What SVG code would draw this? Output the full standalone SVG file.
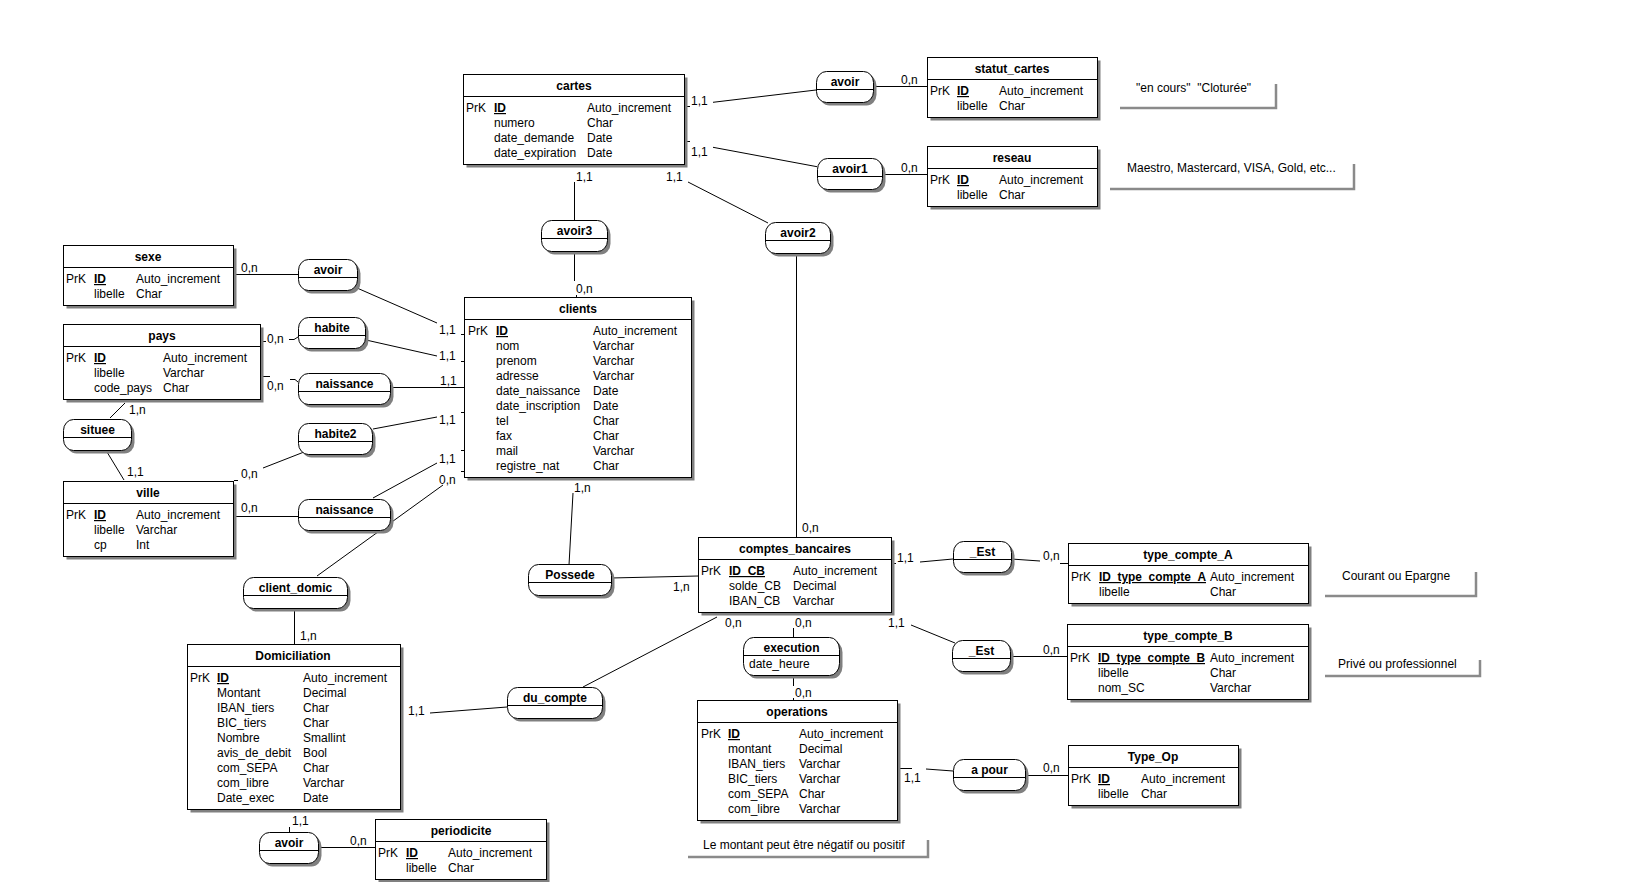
<svg xmlns="http://www.w3.org/2000/svg" width="1646" height="882" viewBox="0 0 1646 882">
<style>
text{font-family:"Liberation Sans",Arial,Helvetica,sans-serif;font-size:12px;fill:#000}
.b{font-weight:bold}
.c{text-anchor:middle}
.u{font-weight:bold;text-decoration:underline}
.box{fill:#fff;stroke:#000;stroke-width:1}
.sh{fill:#808080}
.dv{stroke:#000;stroke-width:1}
.cn path{fill:none;stroke:#000;stroke-width:1}
.note{fill:none;stroke:#8a8a8a;stroke-width:2.5}
</style>
<rect x="0" y="0" width="1646" height="882" fill="#fff"/>

<!-- connectors -->
<g id="connectors" class="cn">
<path d="M684 106.5H690M713 102.3L816 90"/>
<path d="M873 86.5H927"/>
<path d="M684 141.5H690M713 147.3L817 166.7"/>
<path d="M882 174.5H927"/>
<path d="M574.5 182V220"/>
<path d="M688 182L768 223"/>
<path d="M574.5 251V281M576.5 295V297"/>
<path d="M234 274.5H298"/>
<path d="M357 288L437 323M461 334.5H464"/>
<path d="M263 341.5H266M289 339.5H294L298 337"/>
<path d="M366 340L437 356M461 361.5H464"/>
<path d="M263 376.5H270M290 379.5H295L298 382"/>
<path d="M390 387.5H464"/>
<path d="M110 418L125 403"/>
<path d="M107 452L124 480"/>
<path d="M234 480.5H238M263 468L304 452"/>
<path d="M373 429L437 417M461 412.5H464"/>
<path d="M234 516.5H298"/>
<path d="M373 498L437 463M461 450.5H464"/>
<path d="M317 576L443 485M461 471.5H464"/>
<path d="M573 493L569 565"/>
<path d="M611 578L698 576"/>
<path d="M294.5 609V644"/>
<path d="M400 715.5H403M430 713L507 707"/>
<path d="M583 687L717 617"/>
<path d="M289.5 827V832"/>
<path d="M318 847.5H375"/>
<path d="M796.5 253V537"/>
<path d="M891 563.5H896M920 562L953 559"/>
<path d="M1011 559L1040 561M1060 563.5H1068"/>
<path d="M911 625L955 643"/>
<path d="M1010 656.5H1067"/>
<path d="M793.5 628V637"/>
<path d="M793.5 676V686M793.5 698V700"/>
<path d="M897 768.5H912M926 769L953 771"/>
<path d="M1025 775.5H1068"/>
</g>

<!-- cardinality labels -->
<g id="cardinalities">
<text x="691" y="105">1,1</text>
<text x="901" y="84">0,n</text>
<text x="691" y="156">1,1</text>
<text x="901" y="172">0,n</text>
<text x="576" y="181">1,1</text>
<text x="666" y="181">1,1</text>
<text x="576" y="293">0,n</text>
<text x="241" y="272">0,n</text>
<text x="439" y="334">1,1</text>
<text x="267" y="343">0,n</text>
<text x="439" y="360">1,1</text>
<text x="267" y="390">0,n</text>
<text x="440" y="385">1,1</text>
<text x="129" y="414">1,n</text>
<text x="127" y="476">1,1</text>
<text x="241" y="478">0,n</text>
<text x="439" y="424">1,1</text>
<text x="241" y="512">0,n</text>
<text x="439" y="463">1,1</text>
<text x="439" y="484">0,n</text>
<text x="574" y="492">1,n</text>
<text x="673" y="591">1,n</text>
<text x="300" y="640">1,n</text>
<text x="408" y="715">1,1</text>
<text x="725" y="627">0,n</text>
<text x="292" y="825">1,1</text>
<text x="350" y="845">0,n</text>
<text x="802" y="532">0,n</text>
<text x="897" y="562">1,1</text>
<text x="1043" y="560">0,n</text>
<text x="888" y="627">1,1</text>
<text x="1043" y="654">0,n</text>
<text x="795" y="627">0,n</text>
<text x="795" y="697">0,n</text>
<text x="904" y="782">1,1</text>
<text x="1043" y="772">0,n</text>
</g>

<!-- entities -->
<g id="cartes">
<rect class="sh" x="466.5" y="77.5" width="221" height="90"/>
<rect class="box" x="463.5" y="74.5" width="221" height="90"/>
<line class="dv" x1="463.5" y1="96.5" x2="684.5" y2="96.5"/>
<text class="b c" x="574" y="90">cartes</text>
<text x="466" y="112">PrK</text><text class="u" x="494" y="112">ID</text><text x="587" y="112">Auto_increment</text>
<text x="494" y="127">numero</text><text x="587" y="127">Char</text>
<text x="494" y="142">date_demande</text><text x="587" y="142">Date</text>
<text x="494" y="157">date_expiration</text><text x="587" y="157">Date</text>
</g>

<g id="statut_cartes">
<rect class="sh" x="930.5" y="60.5" width="170" height="60"/>
<rect class="box" x="927.5" y="57.5" width="170" height="60"/>
<line class="dv" x1="927.5" y1="79.5" x2="1097.5" y2="79.5"/>
<text class="b c" x="1012" y="73">statut_cartes</text>
<text x="930" y="95">PrK</text><text class="u" x="957" y="95">ID</text><text x="999" y="95">Auto_increment</text>
<text x="957" y="110">libelle</text><text x="999" y="110">Char</text>
</g>

<g id="reseau">
<rect class="sh" x="930.5" y="149.5" width="170" height="60"/>
<rect class="box" x="927.5" y="146.5" width="170" height="60"/>
<line class="dv" x1="927.5" y1="168.5" x2="1097.5" y2="168.5"/>
<text class="b c" x="1012" y="162">reseau</text>
<text x="930" y="184">PrK</text><text class="u" x="957" y="184">ID</text><text x="999" y="184">Auto_increment</text>
<text x="957" y="199">libelle</text><text x="999" y="199">Char</text>
</g>

<g id="sexe">
<rect class="sh" x="66.5" y="248.5" width="170" height="60"/>
<rect class="box" x="63.5" y="245.5" width="170" height="60"/>
<line class="dv" x1="63.5" y1="267.5" x2="233.5" y2="267.5"/>
<text class="b c" x="148" y="261">sexe</text>
<text x="66" y="283">PrK</text><text class="u" x="94" y="283">ID</text><text x="136" y="283">Auto_increment</text>
<text x="94" y="298">libelle</text><text x="136" y="298">Char</text>
</g>

<g id="pays">
<rect class="sh" x="66.5" y="327.5" width="197" height="75"/>
<rect class="box" x="63.5" y="324.5" width="197" height="75"/>
<line class="dv" x1="63.5" y1="346.5" x2="260.5" y2="346.5"/>
<text class="b c" x="162" y="340">pays</text>
<text x="66" y="362">PrK</text><text class="u" x="94" y="362">ID</text><text x="163" y="362">Auto_increment</text>
<text x="94" y="377">libelle</text><text x="163" y="377">Varchar</text>
<text x="94" y="392">code_pays</text><text x="163" y="392">Char</text>
</g>

<g id="ville">
<rect class="sh" x="66.5" y="484.5" width="170" height="75"/>
<rect class="box" x="63.5" y="481.5" width="170" height="75"/>
<line class="dv" x1="63.5" y1="503.5" x2="233.5" y2="503.5"/>
<text class="b c" x="148" y="497">ville</text>
<text x="66" y="519">PrK</text><text class="u" x="94" y="519">ID</text><text x="136" y="519">Auto_increment</text>
<text x="94" y="534">libelle</text><text x="136" y="534">Varchar</text>
<text x="94" y="549">cp</text><text x="136" y="549">Int</text>
</g>

<g id="clients">
<rect class="sh" x="467.5" y="300.5" width="227" height="180"/>
<rect class="box" x="464.5" y="297.5" width="227" height="180"/>
<line class="dv" x1="464.5" y1="319.5" x2="691.5" y2="319.5"/>
<text class="b c" x="578" y="313">clients</text>
<text x="468" y="335">PrK</text><text class="u" x="496" y="335">ID</text><text x="593" y="335">Auto_increment</text>
<text x="496" y="350">nom</text><text x="593" y="350">Varchar</text>
<text x="496" y="365">prenom</text><text x="593" y="365">Varchar</text>
<text x="496" y="380">adresse</text><text x="593" y="380">Varchar</text>
<text x="496" y="395">date_naissance</text><text x="593" y="395">Date</text>
<text x="496" y="410">date_inscription</text><text x="593" y="410">Date</text>
<text x="496" y="425">tel</text><text x="593" y="425">Char</text>
<text x="496" y="440">fax</text><text x="593" y="440">Char</text>
<text x="496" y="455">mail</text><text x="593" y="455">Varchar</text>
<text x="496" y="470">registre_nat</text><text x="593" y="470">Char</text>
</g>

<g id="comptes_bancaires">
<rect class="sh" x="701.5" y="540.5" width="193" height="75"/>
<rect class="box" x="698.5" y="537.5" width="193" height="75"/>
<line class="dv" x1="698.5" y1="559.5" x2="891.5" y2="559.5"/>
<text class="b c" x="795" y="553">comptes_bancaires</text>
<text x="701" y="575">PrK</text><text class="u" x="729" y="575">ID_CB</text><text x="793" y="575">Auto_increment</text>
<text x="729" y="590">solde_CB</text><text x="793" y="590">Decimal</text>
<text x="729" y="605">IBAN_CB</text><text x="793" y="605">Varchar</text>
</g>

<g id="type_compte_A">
<rect class="sh" x="1071.5" y="546.5" width="240" height="60"/>
<rect class="box" x="1068.5" y="543.5" width="240" height="60"/>
<line class="dv" x1="1068.5" y1="565.5" x2="1308.5" y2="565.5"/>
<text class="b c" x="1188" y="559">type_compte_A</text>
<text x="1071" y="581">PrK</text><text class="u" x="1099" y="581" textLength="107" lengthAdjust="spacingAndGlyphs">ID_type_compte_A</text><text x="1210" y="581">Auto_increment</text>
<text x="1099" y="596">libelle</text><text x="1210" y="596">Char</text>
</g>

<g id="type_compte_B">
<rect class="sh" x="1070.5" y="627.5" width="241" height="75"/>
<rect class="box" x="1067.5" y="624.5" width="241" height="75"/>
<line class="dv" x1="1067.5" y1="646.5" x2="1308.5" y2="646.5"/>
<text class="b c" x="1188" y="640">type_compte_B</text>
<text x="1070" y="662">PrK</text><text class="u" x="1098" y="662" textLength="107" lengthAdjust="spacingAndGlyphs">ID_type_compte_B</text><text x="1210" y="662">Auto_increment</text>
<text x="1098" y="677">libelle</text><text x="1210" y="677">Char</text>
<text x="1098" y="692">nom_SC</text><text x="1210" y="692">Varchar</text>
</g>

<g id="operations">
<rect class="sh" x="700.5" y="703.5" width="200" height="120"/>
<rect class="box" x="697.5" y="700.5" width="200" height="120"/>
<line class="dv" x1="697.5" y1="722.5" x2="897.5" y2="722.5"/>
<text class="b c" x="797" y="716">operations</text>
<text x="701" y="738">PrK</text><text class="u" x="728" y="738">ID</text><text x="799" y="738">Auto_increment</text>
<text x="728" y="753">montant</text><text x="799" y="753">Decimal</text>
<text x="728" y="768">IBAN_tiers</text><text x="799" y="768">Varchar</text>
<text x="728" y="783">BIC_tiers</text><text x="799" y="783">Varchar</text>
<text x="728" y="798">com_SEPA</text><text x="799" y="798">Char</text>
<text x="728" y="813">com_libre</text><text x="799" y="813">Varchar</text>
</g>

<g id="Type_Op">
<rect class="sh" x="1071.5" y="748.5" width="170" height="60"/>
<rect class="box" x="1068.5" y="745.5" width="170" height="60"/>
<line class="dv" x1="1068.5" y1="767.5" x2="1238.5" y2="767.5"/>
<text class="b c" x="1153" y="761">Type_Op</text>
<text x="1071" y="783">PrK</text><text class="u" x="1098" y="783">ID</text><text x="1141" y="783">Auto_increment</text>
<text x="1098" y="798">libelle</text><text x="1141" y="798">Char</text>
</g>

<g id="Domiciliation">
<rect class="sh" x="190.5" y="647.5" width="213" height="165"/>
<rect class="box" x="187.5" y="644.5" width="213" height="165"/>
<line class="dv" x1="187.5" y1="666.5" x2="400.5" y2="666.5"/>
<text class="b c" x="293" y="660">Domiciliation</text>
<text x="190" y="682">PrK</text><text class="u" x="217" y="682">ID</text><text x="303" y="682">Auto_increment</text>
<text x="217" y="697">Montant</text><text x="303" y="697">Decimal</text>
<text x="217" y="712">IBAN_tiers</text><text x="303" y="712">Char</text>
<text x="217" y="727">BIC_tiers</text><text x="303" y="727">Char</text>
<text x="217" y="742">Nombre</text><text x="303" y="742">Smallint</text>
<text x="217" y="757">avis_de_debit</text><text x="303" y="757">Bool</text>
<text x="217" y="772">com_SEPA</text><text x="303" y="772">Char</text>
<text x="217" y="787">com_libre</text><text x="303" y="787">Varchar</text>
<text x="217" y="802">Date_exec</text><text x="303" y="802">Date</text>
</g>

<g id="periodicite">
<rect class="sh" x="378.5" y="822.5" width="171" height="60"/>
<rect class="box" x="375.5" y="819.5" width="171" height="60"/>
<line class="dv" x1="375.5" y1="841.5" x2="546.5" y2="841.5"/>
<text class="b c" x="461" y="835">periodicite</text>
<text x="378" y="857">PrK</text><text class="u" x="406" y="857">ID</text><text x="448" y="857">Auto_increment</text>
<text x="406" y="872">libelle</text><text x="448" y="872">Char</text>
</g>

<!-- relations -->
<g id="r_avoir_statut">
<rect class="sh" x="819.5" y="74.5" width="57" height="31" rx="10" ry="11"/>
<rect class="box" x="816.5" y="71.5" width="57" height="31" rx="10" ry="11"/>
<line class="dv" x1="816.5" y1="89.5" x2="873.5" y2="89.5"/>
<text class="b c" x="845" y="86">avoir</text>
</g>
<g id="r_avoir1">
<rect class="sh" x="820.5" y="161.5" width="65" height="31" rx="10" ry="11"/>
<rect class="box" x="817.5" y="158.5" width="65" height="31" rx="10" ry="11"/>
<line class="dv" x1="817.5" y1="176.5" x2="882.5" y2="176.5"/>
<text class="b c" x="850" y="173">avoir1</text>
</g>
<g id="r_avoir3">
<rect class="sh" x="544.5" y="223.5" width="66" height="31" rx="10" ry="11"/>
<rect class="box" x="541.5" y="220.5" width="66" height="31" rx="10" ry="11"/>
<line class="dv" x1="541.5" y1="238.5" x2="607.5" y2="238.5"/>
<text class="b c" x="574.5" y="235">avoir3</text>
</g>
<g id="r_avoir2">
<rect class="sh" x="768.5" y="225.5" width="65" height="31" rx="10" ry="11"/>
<rect class="box" x="765.5" y="222.5" width="65" height="31" rx="10" ry="11"/>
<line class="dv" x1="765.5" y1="240.5" x2="830.5" y2="240.5"/>
<text class="b c" x="798" y="237">avoir2</text>
</g>
<g id="r_avoir_sexe">
<rect class="sh" x="301.5" y="262.5" width="59" height="31" rx="10" ry="11"/>
<rect class="box" x="298.5" y="259.5" width="59" height="31" rx="10" ry="11"/>
<line class="dv" x1="298.5" y1="277.5" x2="357.5" y2="277.5"/>
<text class="b c" x="328" y="274">avoir</text>
</g>
<g id="r_habite">
<rect class="sh" x="301.5" y="320.5" width="67" height="31" rx="10" ry="11"/>
<rect class="box" x="298.5" y="317.5" width="67" height="31" rx="10" ry="11"/>
<line class="dv" x1="298.5" y1="335.5" x2="365.5" y2="335.5"/>
<text class="b c" x="332" y="332">habite</text>
</g>
<g id="r_naissance1">
<rect class="sh" x="301.5" y="376.5" width="92" height="31" rx="10" ry="11"/>
<rect class="box" x="298.5" y="373.5" width="92" height="31" rx="10" ry="11"/>
<line class="dv" x1="298.5" y1="391.5" x2="390.5" y2="391.5"/>
<text class="b c" x="344.5" y="388">naissance</text>
</g>
<g id="r_situee">
<rect class="sh" x="66.5" y="422.5" width="68" height="31" rx="10" ry="11"/>
<rect class="box" x="63.5" y="419.5" width="68" height="31" rx="10" ry="11"/>
<line class="dv" x1="63.5" y1="437.5" x2="131.5" y2="437.5"/>
<text class="b c" x="97.5" y="434">situee</text>
</g>
<g id="r_habite2">
<rect class="sh" x="301.5" y="426.5" width="74" height="31" rx="10" ry="11"/>
<rect class="box" x="298.5" y="423.5" width="74" height="31" rx="10" ry="11"/>
<line class="dv" x1="298.5" y1="441.5" x2="372.5" y2="441.5"/>
<text class="b c" x="335.5" y="438">habite2</text>
</g>
<g id="r_naissance2">
<rect class="sh" x="301.5" y="502.5" width="92" height="31" rx="10" ry="11"/>
<rect class="box" x="298.5" y="499.5" width="92" height="31" rx="10" ry="11"/>
<line class="dv" x1="298.5" y1="517.5" x2="390.5" y2="517.5"/>
<text class="b c" x="344.5" y="514">naissance</text>
</g>
<g id="r_client_domic">
<rect class="sh" x="246.5" y="580.5" width="104" height="31" rx="10" ry="11"/>
<rect class="box" x="243.5" y="577.5" width="104" height="31" rx="10" ry="11"/>
<line class="dv" x1="243.5" y1="595.5" x2="347.5" y2="595.5"/>
<text class="b c" x="295.5" y="592">client_domic</text>
</g>
<g id="r_possede">
<rect class="sh" x="531.5" y="567.5" width="83" height="31" rx="10" ry="11"/>
<rect class="box" x="528.5" y="564.5" width="83" height="31" rx="10" ry="11"/>
<line class="dv" x1="528.5" y1="582.5" x2="611.5" y2="582.5"/>
<text class="b c" x="570" y="579">Possede</text>
</g>
<g id="r_du_compte">
<rect class="sh" x="510.5" y="690.5" width="95" height="31" rx="10" ry="11"/>
<rect class="box" x="507.5" y="687.5" width="95" height="31" rx="10" ry="11"/>
<line class="dv" x1="507.5" y1="705.5" x2="602.5" y2="705.5"/>
<text class="b c" x="555" y="702">du_compte</text>
</g>
<g id="r_avoir_periodicite">
<rect class="sh" x="262.5" y="835.5" width="59" height="31" rx="10" ry="11"/>
<rect class="box" x="259.5" y="832.5" width="59" height="31" rx="10" ry="11"/>
<line class="dv" x1="259.5" y1="850.5" x2="318.5" y2="850.5"/>
<text class="b c" x="289" y="847">avoir</text>
</g>
<g id="r_est_A">
<rect class="sh" x="956.5" y="544.5" width="58" height="31" rx="10" ry="11"/>
<rect class="box" x="953.5" y="541.5" width="58" height="31" rx="10" ry="11"/>
<line class="dv" x1="953.5" y1="559.5" x2="1011.5" y2="559.5"/>
<text class="b c" x="982.5" y="556">_Est</text>
</g>
<g id="r_est_B">
<rect class="sh" x="955.5" y="643.5" width="58" height="31" rx="10" ry="11"/>
<rect class="box" x="952.5" y="640.5" width="58" height="31" rx="10" ry="11"/>
<line class="dv" x1="952.5" y1="658.5" x2="1010.5" y2="658.5"/>
<text class="b c" x="981.5" y="655">_Est</text>
</g>
<g id="r_execution">
<rect class="sh" x="746.5" y="640.5" width="96" height="38" rx="10" ry="12"/>
<rect class="box" x="743.5" y="637.5" width="96" height="38" rx="10" ry="12"/>
<line class="dv" x1="743.5" y1="655.5" x2="839.5" y2="655.5"/>
<text class="b c" x="791.5" y="652">execution</text>
<text x="749" y="668">date_heure</text>
</g>
<g id="r_a_pour">
<rect class="sh" x="956.5" y="762.5" width="72" height="31" rx="10" ry="11"/>
<rect class="box" x="953.5" y="759.5" width="72" height="31" rx="10" ry="11"/>
<line class="dv" x1="953.5" y1="777.5" x2="1025.5" y2="777.5"/>
<text class="b c" x="989.5" y="774">a pour</text>
</g>

<!-- notes -->
<g id="note_statut">
<text x="1136" y="92" xml:space="preserve">"en cours"  "Cloturée"</text>
<path class="note" d="M1120 108H1276V84"/>
</g>
<g id="note_reseau">
<text x="1127" y="172">Maestro, Mastercard, VISA, Gold, etc...</text>
<path class="note" d="M1110 189H1354V164"/>
</g>
<g id="note_type_A">
<text x="1342" y="580">Courant ou Epargne</text>
<path class="note" d="M1325 596H1476V572"/>
</g>
<g id="note_type_B">
<text x="1338" y="668">Privé ou professionnel</text>
<path class="note" d="M1325 676H1480V660"/>
</g>
<g id="note_operations">
<text x="703" y="849">Le montant peut être négatif ou positif</text>
<path class="note" d="M688 857H928V840"/>
</g>
</svg>
